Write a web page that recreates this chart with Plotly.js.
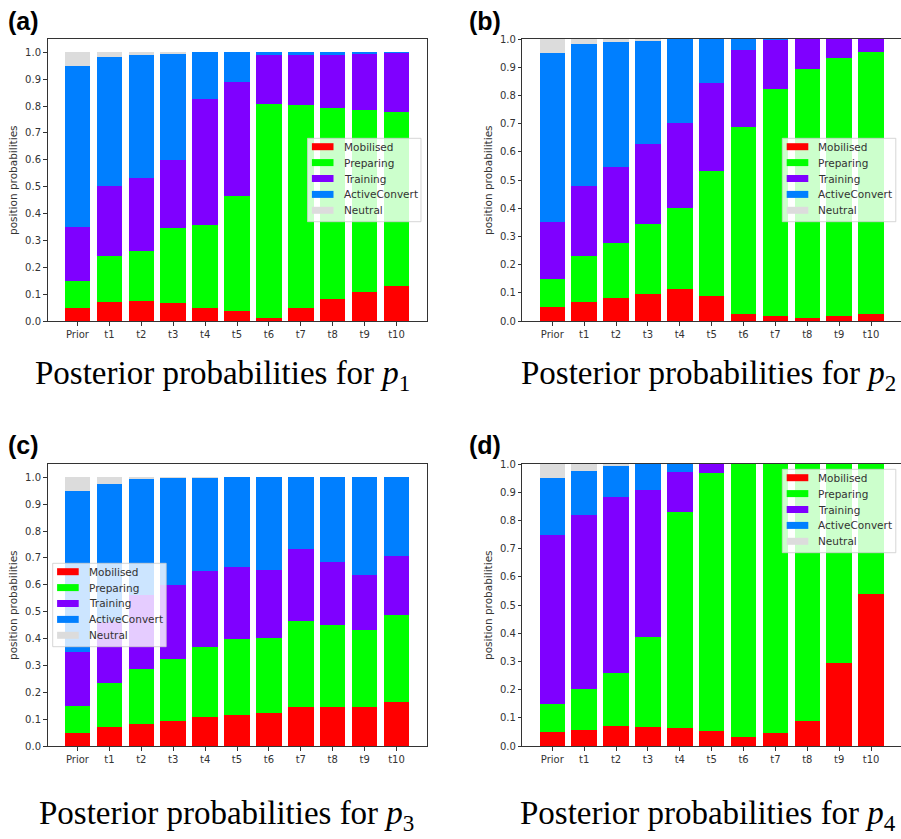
<!DOCTYPE html>
<html><head><meta charset="utf-8">
<script src="https://cdn.plot.ly/plotly-3.0.1.min.js"></script>
<style>html,body{margin:0;padding:0;background:#fff}#chart{width:901px;height:839px}</style>
</head><body><div id="chart"></div>
<script>
const categories = ['Prior','t1','t2','t3','t4','t5','t6','t7','t8','t9','t10'];
const seriesNames = ['Mobilised','Preparing','Training','ActiveConvert','Neutral'];
const seriesColors = ['#ff0000','#00ff00','#7f00ff','#007fff','#dcdcdc'];
const panelLetters = ['(a)','(b)','(c)','(d)'];
const captionIndex = ['1','2','3','4'];
const yTickVals = [0,0.1,0.2,0.3,0.4,0.5,0.6,0.7,0.8,0.9,1.0];

// p1
const p1Mobilised = [0.050,0.071,0.076,0.067,0.047,0.038,0.010,0.047,0.081,0.107,0.132];
const p1Preparing = [0.100,0.170,0.185,0.279,0.309,0.426,0.799,0.757,0.711,0.680,0.645];
const p1Training  = [0.200,0.261,0.270,0.253,0.470,0.424,0.180,0.187,0.199,0.208,0.220];
const p1Active    = [0.600,0.481,0.460,0.396,0.174,0.112,0.011,0.009,0.009,0.005,0.003];
const p1Neutral   = [0.050,0.017,0.009,0.005,0.001,0.000,0.000,0.000,0.000,0.000,0.000];
// p2
const p2Mobilised = [0.050,0.069,0.080,0.097,0.112,0.090,0.025,0.018,0.011,0.019,0.025];
const p2Preparing = [0.100,0.160,0.198,0.246,0.290,0.442,0.664,0.805,0.881,0.914,0.929];
const p2Training  = [0.200,0.251,0.268,0.286,0.300,0.312,0.271,0.173,0.108,0.067,0.046];
const p2Active    = [0.600,0.502,0.443,0.365,0.298,0.156,0.040,0.004,0.000,0.000,0.000];
const p2Neutral   = [0.050,0.018,0.011,0.006,0.000,0.000,0.000,0.000,0.000,0.000,0.000];
// p3
const p3Mobilised = [0.050,0.071,0.081,0.093,0.107,0.117,0.123,0.145,0.145,0.145,0.164];
const p3Preparing = [0.100,0.163,0.207,0.232,0.263,0.280,0.279,0.321,0.305,0.285,0.324];
const p3Training  = [0.200,0.229,0.275,0.274,0.281,0.269,0.254,0.266,0.236,0.208,0.219];
const p3Active    = [0.600,0.512,0.430,0.397,0.345,0.334,0.344,0.268,0.314,0.362,0.293];
const p3Neutral   = [0.050,0.025,0.007,0.004,0.004,0.000,0.000,0.000,0.000,0.000,0.000];
// p4
const p4Mobilised = [0.050,0.058,0.070,0.067,0.063,0.053,0.032,0.047,0.089,0.296,0.540];
const p4Preparing = [0.100,0.145,0.190,0.320,0.767,0.914,0.968,0.953,0.911,0.704,0.460];
const p4Training  = [0.600,0.617,0.623,0.522,0.142,0.033,0.000,0.000,0.000,0.000,0.000];
const p4Active    = [0.200,0.156,0.110,0.091,0.028,0.000,0.000,0.000,0.000,0.000,0.000];
const p4Neutral   = [0.050,0.024,0.007,0.000,0.000,0.000,0.000,0.000,0.000,0.000,0.000];

const W = 901, H = 839;
const px = v => v / W;
const py = v => 1 - v / H;

const panels = [
  {series:[p1Mobilised,p1Preparing,p1Training,p1Active,p1Neutral], left:47.5, right:426.5, top:39, bottom:321, ymax:1.0495,
   ylabX:13, labX:23, labY:21, legL:307.5, legT:138.3, capX:222, capY:375},
  {series:[p2Mobilised,p2Preparing,p2Training,p2Active,p2Neutral], left:522.3, right:901, top:39, bottom:321, ymax:1.0,
   ylabX:488, labX:485, labY:21, legL:782.3, legT:138.3, capX:708, capY:375},
  {series:[p3Mobilised,p3Preparing,p3Training,p3Active,p3Neutral], left:47.5, right:426.5, top:464, bottom:746, ymax:1.0495,
   ylabX:13, labX:23, labY:445, legL:52.7, legT:563.3, capX:226, capY:815},
  {series:[p4Mobilised,p4Preparing,p4Training,p4Active,p4Neutral], left:522.3, right:901, top:464, bottom:746, ymax:1.0,
   ylabX:488, labX:485, labY:445, legL:782.3, legT:469.3, capX:708, capY:815}
];

const traces = [];
const layout = {
  width: W, height: H, margin:{l:0,r:0,t:0,b:0},
  paper_bgcolor:'#fff', plot_bgcolor:'#fff',
  barmode:'stack', bargap:0.2, showlegend:false,
  font:{family:'DejaVu Sans', size:10, color:'#333'},
  shapes:[], annotations:[]
};

panels.forEach((p, i) => {
  const n = i + 1;
  const xa = n === 1 ? 'x' : 'x' + n;
  const ya = n === 1 ? 'y' : 'y' + n;
  p.series.forEach((vals, s) => {
    traces.push({type:'bar', x:categories, y:vals, name:seriesNames[s], xaxis:xa, yaxis:ya,
      marker:{color:seriesColors[s], line:{width:0}}, hoverinfo:'x+y+name'});
  });
  const common = {showline:true, mirror:true, linecolor:'#333', linewidth:1, ticks:'outside', ticklen:3.5,
    tickwidth:1, tickcolor:'#333', showgrid:false, zeroline:false, fixedrange:true,
    tickfont:{family:'DejaVu Sans', size:10, color:'#333'}};
  layout['xaxis' + (n === 1 ? '' : n)] = Object.assign({}, common, {
    domain:[px(p.left), Math.min(1, px(p.right))], anchor:ya, type:'category',
    range:[-0.94, 10.94]});
  layout['yaxis' + (n === 1 ? '' : n)] = Object.assign({}, common, {
    domain:[py(p.bottom), py(p.top)], anchor:xa, range:[0, p.ymax],
    tickmode:'array', tickvals:yTickVals, ticktext:yTickVals.map(v => v.toFixed(1))});

  layout.annotations.push({xref:'paper', yref:'paper', x:px(p.ylabX), y:py((p.top+p.bottom)/2),
    text:'position probabilities', textangle:-90, showarrow:false, xanchor:'center', yanchor:'middle',
    font:{family:'DejaVu Sans', size:10.5, color:'#333'}});
  layout.annotations.push({xref:'paper', yref:'paper', x:px(p.labX), y:py(p.labY),
    text:'<b>' + panelLetters[i] + '</b>', showarrow:false, xanchor:'center', yanchor:'middle',
    font:{family:'Liberation Sans', size:25, color:'#000'}});
  layout.annotations.push({xref:'paper', yref:'paper', x:px(p.capX), y:py(p.capY),
    text:'Posterior probabilities for <i>p</i><sub>' + captionIndex[i] + '</sub>', showarrow:false,
    xanchor:'center', yanchor:'middle',
    font:{family:'Liberation Serif', size:33, color:'#000'}});

  const L = p.legL, T = p.legT, bw = 113.5, bh = 83.4;
  layout.shapes.push({type:'rect', xref:'paper', yref:'paper', x0:px(L), x1:px(L+bw), y0:py(T), y1:py(T+bh),
    fillcolor:'rgba(255,255,255,0.8)', line:{color:'rgba(204,204,204,0.8)', width:1}});
  seriesNames.forEach((nm, s) => {
    const cy = T + 8.4 + 15.9 * s;
    layout.shapes.push({type:'rect', xref:'paper', yref:'paper', x0:px(L+4.4), x1:px(L+26), y0:py(cy-3.5), y1:py(cy+3.5),
      fillcolor:seriesColors[s], line:{width:0}});
    layout.annotations.push({xref:'paper', yref:'paper', x:px(L+34), y:py(cy), text:nm, showarrow:false,
      xanchor:'left', yanchor:'middle', font:{family:'DejaVu Sans', size:10.5, color:'#333'}});
  });
});

Plotly.newPlot('chart', traces, layout, {displayModeBar:false, staticPlot:true});
</script>
</body></html>
